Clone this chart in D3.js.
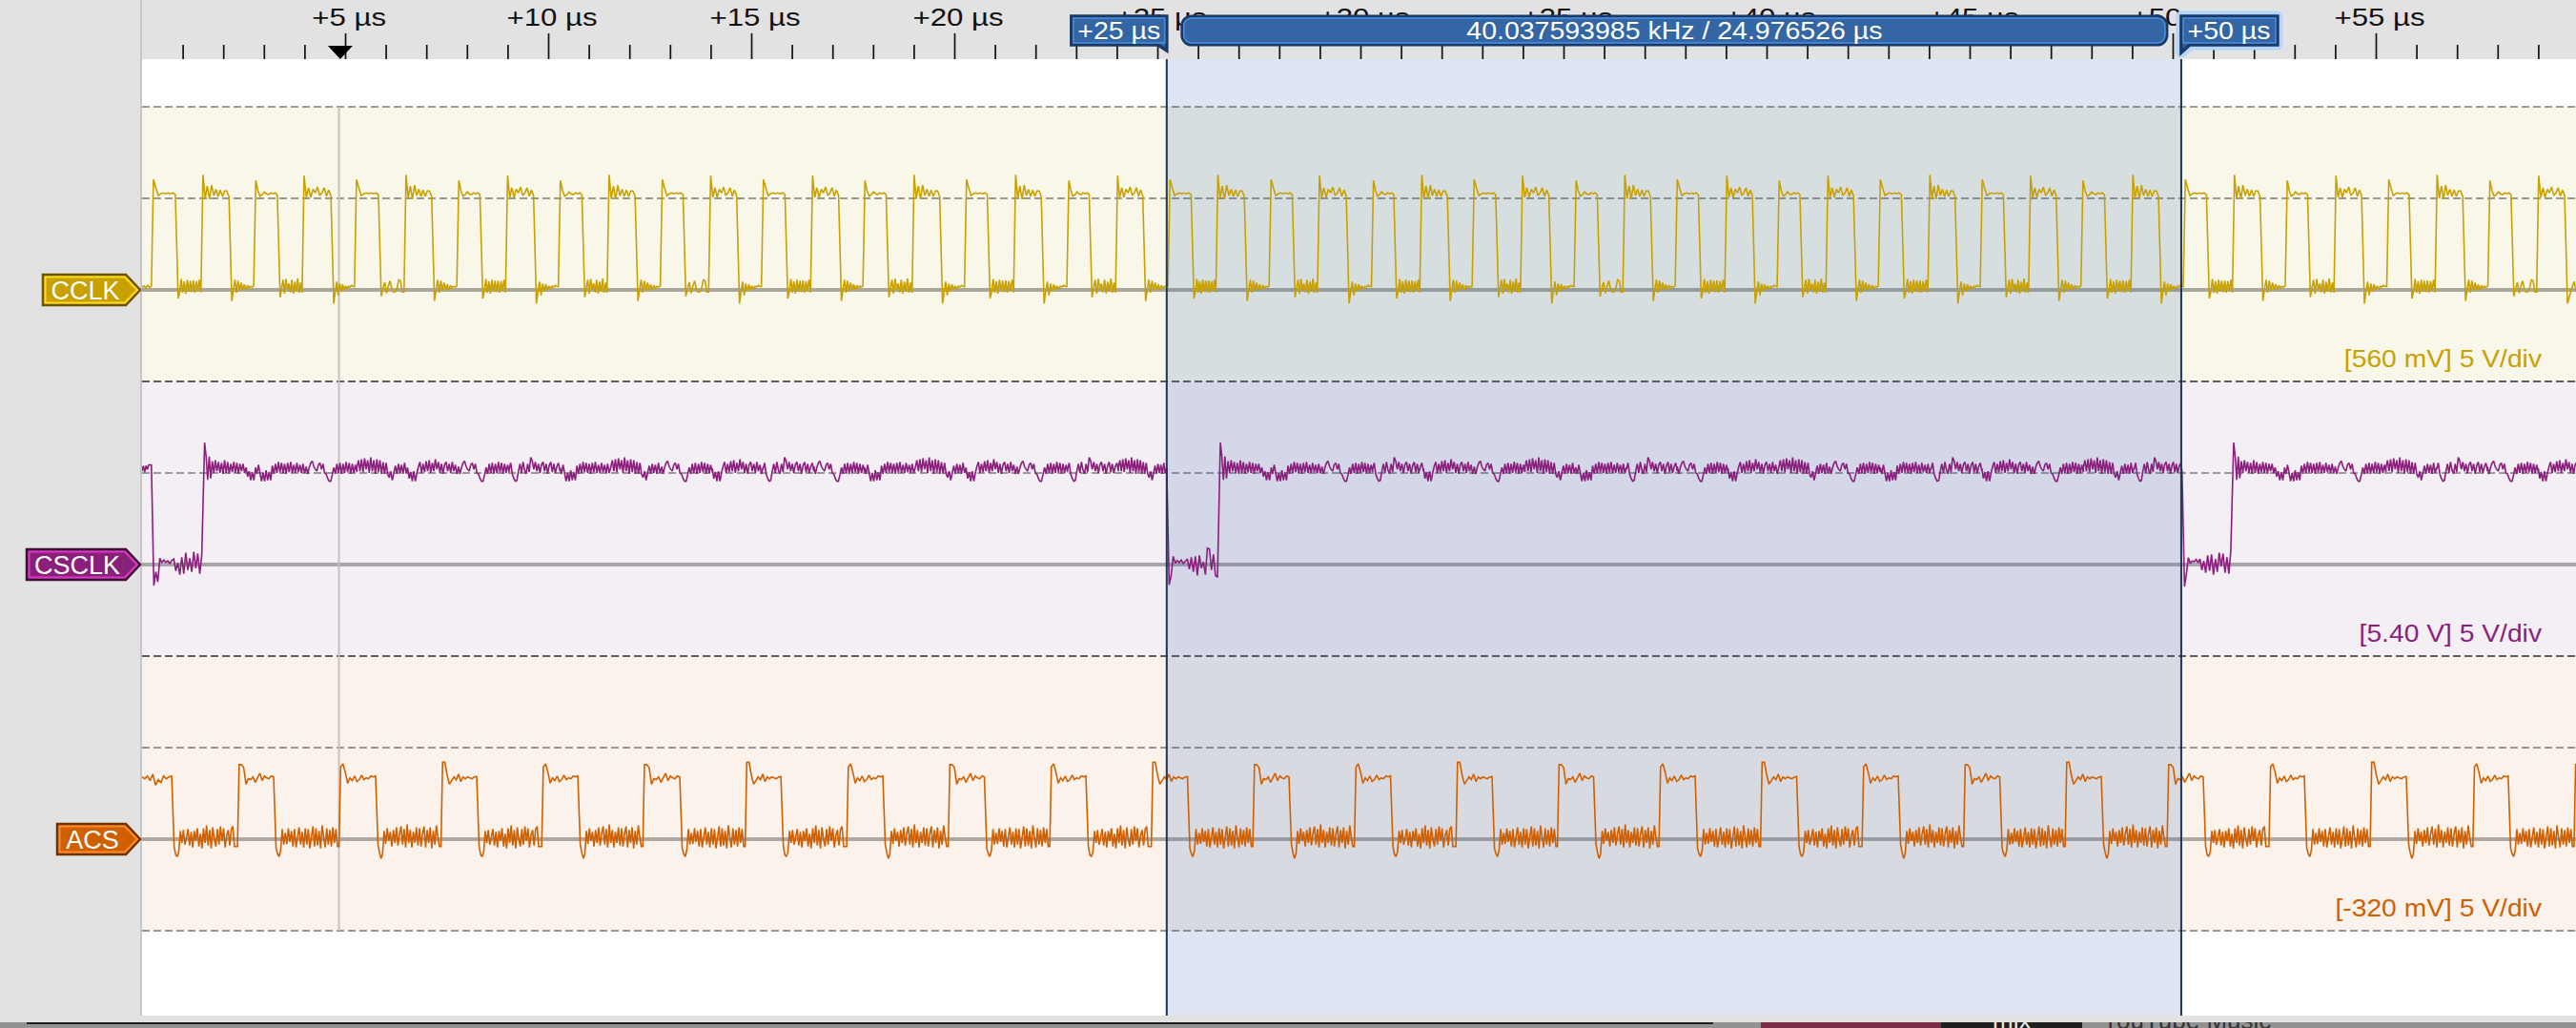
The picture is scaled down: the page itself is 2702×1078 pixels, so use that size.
<!DOCTYPE html>
<html>
<head>
<meta charset="utf-8">
<title>CCLK / CSCLK / ACS</title>
<script src="https://cdn.jsdelivr.net/npm/d3@7"></script>
<style>
  html, body { margin: 0; padding: 0; background: #e2e2e2; overflow: hidden; }
  svg { display: block; }
  text { font-family: "Liberation Sans", Arial, sans-serif; }
</style>
</head>
<body>
<svg id="chart" width="2702" height="1078"></svg>
<script>
// ------------------------------------------------------------
// data: edge times in us, levels in V
// a ripple shape is one hand-read stretch of trace, a pick list
// says which shape each stretch of the capture looks like
// ------------------------------------------------------------
const majorTicks = [5, 10, 15, 20, 25, 30, 35, 40, 45, 50, 55];
const minorTicks = [1, 2, 3, 4, 6, 7, 8, 9, 11, 12, 13, 14, 16, 17, 18, 19, 21, 22, 23, 24, 26, 27, 28, 29, 31, 32, 33, 34, 36, 37, 38, 39, 41, 42, 43, 44, 46, 47, 48, 49, 51, 52, 53, 54, 56, 57, 58, 59];

const cursorA = 25.23;
const cursorB = 50.21;
const triggerAt = 4.88;
const cursorLabelA = '+25 µs';
const cursorLabelB = '+50 µs';
const spanLabel = '40.037593985 kHz / 24.976526 µs';

// CCLK
const cclkRise = [0.23, 1.45, 2.75, 3.94, 5.23, 6.45, 7.75, 8.95, 10.25, 11.45, 12.76, 13.95, 15.25, 16.46, 17.75, 18.96, 20.25, 21.46, 22.77, 23.97, 25.26, 26.44, 27.75, 28.94, 30.27, 31.46, 32.75, 33.94, 35.26, 36.46, 37.75, 38.97, 40.26, 41.46, 42.75, 43.97, 45.26, 46.45, 47.74, 48.97, 50.26, 51.47, 52.77, 53.97, 55.27, 56.46, 57.76, 58.96];
const cclkFall = [0.82, 2.14, 3.33, 4.65, 5.82, 7.13, 8.32, 9.64, 10.83, 12.14, 13.32, 14.64, 15.83, 17.15, 18.32, 19.64, 20.81, 22.14, 23.32, 24.64, 25.83, 27.14, 28.32, 29.65, 30.82, 32.14, 33.33, 34.64, 35.83, 37.14, 38.32, 39.65, 40.82, 42.14, 43.32, 44.64, 45.83, 47.13, 48.32, 49.65, 50.83, 52.15, 53.32, 54.65, 55.82, 57.14, 58.33, 59.65];
const cclkLead = [0.12, 0.22, 0.1, 0.25, 0.14, 0.2];
const cclkHighShapes = [
  [6.03, 5.56, 5.15, 5.25, 5.3, 5.25, 5.3, 5.25, 5.3, 5.2],
  [5.98, 5.42, 5.12, 5.2, 5.35, 5.25, 5.2, 5.3, 5.25, 5.3, 5.2],
  [6.29, 4.99, 5.67, 4.95, 5.72, 5.15, 5.5, 5.1, 5.45, 5.1, 5.4, 5.4, 5.1],
  [6.24, 5.05, 5.58, 5.05, 5.5, 5.3, 5.62, 5.15, 5.3, 5.58, 5.12, 5.45, 5.15]
];
const cclkLowShapes = [
  [-0.47, -0.1, 0.6, -0.15, 0.47, -0.2, 0.55, -0.1, 0.5, -0.12, 0.52, -0.15, 0.47, -0.05, 0.55, -0.14],
  [-0.4, 0.1, 0.55, -0.2, 0.6, 0.0, 0.35, -0.14, 0.55, -0.2, 0.45, -0.1, 0.62, -0.15, 0.4, -0.15],
  [-0.6, 0.0, 0.56, -0.15, 0.5, -0.05, 0.4, 0.0, 0.3, 0.0, 0.25, 0.1, 0.2, 0.15, 0.22],
  [-0.75, -0.1, 0.45, -0.3, 0.35, -0.1, 0.3, 0.02, 0.22, 0.05, 0.2, 0.16, 0.25, 0.2, 0.18],
  [-0.35, 0.1, 0.42, -0.18, 0.2, 0.5, 0.05, -0.12, -0.1, 0.1, 0.55, 0.5, -0.12, -0.12]
];
const cclkHighPick = [0, 2, 1, 3, 0, 2, 1, 3, 1, 2, 0, 3, 0, 3, 1, 2, 0, 2, 1, 3, 0, 2, 0, 3, 1, 2, 0, 3, 1, 2, 0, 3, 1, 3, 0, 2, 0, 3, 1, 2, 0, 2, 1, 3, 0, 2, 1, 3];
const cclkLowPick = [0, 2, 1, 3, 4, 2, 0, 3, 1, 2, 4, 3, 0, 2, 1, 3, 0, 3, 1, 2, 0, 2, 1, 3, 0, 2, 1, 3, 4, 2, 0, 3, 1, 2, 0, 3, 1, 2, 0, 3, 0, 2, 1, 3, 0, 2, 4, 3];

// CSCLK
const csclkFall = [0.23, 25.23, 50.23];
const csclkRise = [1.47, 26.48, 51.43];
const csclkLead = [5.1, 5.4, 5.05, 5.4, 5.2, 5.44, 5.44, 5.44];
const csclkLowShapes = [
  [-1.15, -0.4, -0.95, 0.35, 0.1, 0.25, 0.12, 0.2, 0.06, 0.22, 0.3, -0.35, 0.1, -0.55, 0.4, -0.5, 0.65, -0.3, 0.35, -0.4, 0.7, -0.2, 0.6, -0.5, 0.5],
  [-1.1, -0.6, 0.45, 0.08, 0.22, 0.1, 0.25, 0.06, 0.18, 0.3, -0.25, 0.4, -0.4, 0.45, -0.6, 0.5, -0.2, 0.15, -0.55, 0.9, 0.85, -0.3, 0.55, -0.6, -0.7],
  [-1.2, -0.5, 0.38, 0.05, 0.2, 0.15, 0.28, 0.1, 0.3, -0.3, 0.2, -0.45, 0.5, -0.35, 0.55, -0.55, 0.3, -0.4, 0.65, -0.1, 0.6, -0.45, 0.4, -0.5, 0.75]
];
const csclkRiseShape = [6.66, 5.9, 4.63, 5.9, 4.7, 5.65, 5.0, 5.7, 5.1, 5.6, 5.0, 5.55, 4.95, 5.7, 5.0, 5.6, 4.95, 5.5, 5.05, 5.6, 5.0, 5.55, 4.95, 5.5, 5.1, 5.5, 5.0, 5.3, 4.8, 5.1, 4.6, 5.05, 4.6, 5.2];
const csclkBeatShapes = [
  [5.3, 4.95, 5.45, 5.0, 4.55, 5.0, 4.55, 5.15, 4.6, 5.05, 4.6, 5.4, 4.95, 5.5, 5.0, 5.6, 5.05, 5.55, 5.0, 5.5, 4.95, 5.55, 5.05, 5.6, 5.0, 5.45, 5.0, 5.55, 5.05, 5.45, 5.0, 5.5, 5.0, 5.3],
  [5.35, 4.95, 5.3, 5.55, 5.65, 5.35, 5.2, 5.1, 5.45, 5.55, 5.2, 5.5, 5.0, 4.95, 4.7, 4.55, 4.55, 4.9, 5.3, 4.95, 5.5, 5.0, 5.55, 4.95, 5.5, 5.0, 5.6, 5.05, 5.55, 4.95, 5.5, 5.0, 5.45, 5.05],
  [5.3, 5.7, 5.1, 5.75, 5.05, 5.8, 5.2, 5.7, 5.0, 5.85, 5.1, 5.7, 4.95, 5.75, 5.05, 5.7, 4.95, 5.6, 4.95, 5.55, 4.95, 4.75, 5.1, 4.6, 5.0, 5.4, 4.95, 5.5, 5.0, 5.45, 4.95, 5.55, 5.0, 5.3],
  [5.25, 4.7, 5.05, 4.55, 5.1, 4.55, 5.0, 5.35, 5.6, 5.0, 5.5, 5.05, 5.65, 5.1, 5.7, 5.0, 5.55, 5.1, 5.75, 5.2, 5.6, 5.0, 5.5, 4.95, 5.45, 5.6, 5.1, 5.5, 5.0, 5.6, 5.1, 5.45, 4.95, 5.3],
  [5.2, 5.55, 4.95, 4.7, 4.55, 4.6, 5.1, 5.5, 5.0, 5.6, 5.15, 4.95, 5.5, 5.05, 5.85, 5.65, 5.2, 5.6, 5.1, 5.5, 5.0, 5.45, 5.6, 5.1, 5.5, 4.95, 5.4, 5.6, 5.05, 5.5, 5.0, 5.35, 5.55, 5.1]
];
const csclkBeatPick = [
  [0, 1, 2, 3, 1, 4, 0, 2, 1, 3, 4, 1, 0, 2, 3, 1, 4, 2, 1],
  [0, 1, 4, 3, 1, 2, 0, 4, 1, 3, 2, 1, 0, 4, 3, 1, 2, 4, 1],
  [0, 1, 2, 4, 1, 3, 0, 2, 1]
];

// ACS
const acsFall = [0.73, 3.24, 5.75, 8.24, 10.73, 13.24, 15.73, 18.24, 20.74, 23.24, 25.74, 28.24, 30.74, 33.24, 35.74, 38.24, 40.74, 43.24, 45.74, 48.24, 50.75, 53.24, 55.75, 58.26];
const acsRise = [2.35, 4.85, 7.36, 9.84, 12.33, 14.85, 17.35, 19.85, 22.35, 24.85, 27.35, 29.85, 32.35, 34.85, 37.35, 39.85, 42.35, 44.85, 47.35, 49.86, 52.37, 54.86, 57.39, 59.88];
const acsLead = [3.4, 3.3, 3.45, 3.2, 3.55, 2.95, 3.25, 3.1, 3.45, 3.3, 3.4, 3.45];
const acsHighShapes = [
  [4.07, 4.07, 3.9, 3.0, 3.3, 3.25, 3.4, 3.1, 3.35, 3.6, 3.2, 3.45, 3.35, 3.3, 3.45, 3.4],
  [3.95, 4.12, 3.65, 3.05, 3.35, 3.2, 3.45, 3.15, 3.25, 3.5, 3.25, 3.35, 3.3, 3.45, 3.4, 3.45],
  [4.2, 4.2, 3.5, 3.0, 3.2, 3.4, 3.25, 3.55, 3.15, 3.4, 3.3, 3.4, 3.35, 3.3, 3.4, 3.42]
];
const acsLowShapes = [
  [-0.4, -0.85, -0.95, -0.7, 0.45, -0.2, 0.5, -0.3, 0.1, 0.55, -0.35, 0.4, -0.45, 0.45, -0.1, 0.6, -0.4, 0.3, -0.5, 0.6, -0.2, 0.75, -0.35, 0.5, -0.5, 0.65, 0.0, -0.4, 0.55, -0.3, 0.7, -0.1, 0.6, -0.45, 0.2, 0.5, -0.35, 0.55, 0.7, -0.4, -0.4, -0.4],
  [-0.5, -0.8, -0.95, -0.6, 0.55, -0.3, 0.35, -0.25, 0.6, -0.15, 0.45, -0.4, 0.55, -0.45, 0.1, 0.65, -0.3, 0.4, -0.45, 0.6, -0.3, 0.55, -0.5, 0.1, 0.7, -0.4, 0.6, -0.35, 0.45, -0.5, 0.75, 0.1, -0.45, 0.6, -0.3, 0.5, -0.4, 0.65, -0.2, 0.55, -0.4, -0.4],
  [-0.3, -0.75, -1.05, -0.8, 0.45, -0.25, 0.6, -0.1, 0.4, -0.4, 0.5, -0.2, 0.65, -0.35, 0.3, 0.7, -0.3, 0.55, -0.45, 0.8, -0.2, 0.5, -0.45, 0.4, -0.2, 0.65, -0.35, 0.6, -0.4, 0.3, 0.7, -0.45, 0.5, -0.2, 0.65, -0.5, 0.45, -0.3, 0.75, 0.1, -0.4, -0.4]
];
const acsHighPick = [0, 1, 2, 1, 0, 2, 1, 0, 1, 2, 0, 1, 2, 0, 1, 2, 1, 0, 2, 0, 1, 2, 1, 0];
const acsLowPick = [0, 1, 2, 0, 2, 1, 0, 2, 1, 0, 1, 2, 0, 1, 2, 1, 0, 2, 1, 2, 0, 1, 2, 1];

// ------------------------------------------------------------
// layout and styles
// ------------------------------------------------------------
const WIDTH = 2702;
const HEIGHT = 1078;
const PLOT_LEFT = 149;
const RULER_BOTTOM = 62;
const PLOT_BOTTOM = 1065;
const LABEL_STRETCH = 1.14;

const channels = [
  { name: 'CCLK', note: '[560 mV] 5 V/div', top: 112, color: '#c8a000', bg: '#f9f7ea', zero: '#aaa89c', boxLeft: 45, boxFill: '#c8a000', boxInner: '#fdd824', boxOuter: '#6b5500' },
  { name: 'CSCLK', note: '[5.40 V] 5 V/div', top: 400, color: '#8a1f7c', bg: '#f4eef5', zero: '#aba5ac', boxLeft: 28, boxFill: '#8a1f7c', boxInner: '#d83bc2', boxOuter: '#3d0d36' },
  { name: 'ACS', note: '[-320 mV] 5 V/div', top: 688, color: '#d05f00', bg: '#fbf2ec', zero: '#aea8a3', boxLeft: 60, boxFill: '#cf5f00', boxInner: '#ff8a2a', boxOuter: '#6f3300' }
];
const ZONE = 288;  // three divisions

const x = d3.scaleLinear().domain([0, 60]).range([PLOT_LEFT, PLOT_LEFT + 60 * 42.6]);
const svg = d3.select('#chart');

// stretch one hand-read shape between two times
function place(shape, t0, t1) {
  const s = d3.scaleLinear().domain([0, shape.length - 1]).range([t0, t1]);
  return shape.map((v, i) => [s(i), v]);
}

function buildCclk() {
  let pts = place(cclkLead, 0, cclkRise[0]);
  cclkRise.forEach((r, i) => {
    pts = pts.concat(place(cclkHighShapes[cclkHighPick[i]], r + 0.05, cclkFall[i]));
    const next = i + 1 < cclkRise.length ? cclkRise[i + 1] : 60.85;
    pts = pts.concat(place(cclkLowShapes[cclkLowPick[i]], cclkFall[i] + 0.07, next));
  });
  return pts;
}

function buildCsclk() {
  let pts = place(csclkLead, 0, csclkFall[0]);
  csclkFall.forEach((f, i) => {
    pts = pts.concat(place(csclkLowShapes[i], f + 0.06, csclkRise[i]));
    const start = csclkRise[i] + 0.07;
    pts = pts.concat(place(csclkRiseShape, start, start + 1.25));
    csclkBeatPick[i].forEach((p, k) => {
      const b = start + 1.25 * (k + 1);
      const end = i + 1 < csclkFall.length ? Math.min(b + 1.25, csclkFall[i + 1]) : b + 1.25;
      if (b < end) pts = pts.concat(place(csclkBeatShapes[p], b, end));
    });
  });
  return pts;
}

function buildAcs() {
  let pts = place(acsLead, 0, acsFall[0]);
  acsFall.forEach((f, i) => {
    pts = pts.concat(place(acsLowShapes[acsLowPick[i]], f + 0.06, acsRise[i]));
    const next = i + 1 < acsFall.length ? acsFall[i + 1] : 60.7;
    pts = pts.concat(place(acsHighShapes[acsHighPick[i]], acsRise[i] + 0.04, next));
  });
  return pts;
}

const traces = [buildCclk(), buildCsclk(), buildAcs()];

// ------------------------------------------------------------
// window strip behind the app at the very bottom
// ------------------------------------------------------------
const strip = svg.append('g');
strip.append('rect').attr('x', 0).attr('y', 1072).attr('width', WIDTH).attr('height', 6).attr('fill', '#929292');
strip.append('rect').attr('x', 28).attr('y', 1072).attr('width', 1769).attr('height', 2).attr('fill', '#1d2020');
strip.append('rect').attr('x', 1847).attr('y', 1072).attr('width', 189).attr('height', 6).attr('fill', '#7c2a48');
strip.append('rect').attr('x', 2036).attr('y', 1072).attr('width', 148).attr('height', 6).attr('fill', '#1f1f1f');
strip.append('text').attr('x', 2090).attr('y', 1079).attr('font-size', 26).attr('fill', '#e8e8e8').text('mix');
strip.append('text').attr('x', 2205).attr('y', 1079).attr('font-size', 26).attr('fill', '#333').text('YouTube Music');
svg.append('rect').attr('x', 0).attr('y', 0).attr('width', WIDTH).attr('height', 1072).attr('fill', '#e2e2e2');

// ------------------------------------------------------------
// plot area
// ------------------------------------------------------------
svg.append('rect').attr('x', PLOT_LEFT).attr('y', RULER_BOTTOM)
  .attr('width', WIDTH - PLOT_LEFT).attr('height', PLOT_BOTTOM - RULER_BOTTOM).attr('fill', '#fff');
svg.append('line').attr('x1', 148).attr('x2', 148).attr('y1', 0).attr('y2', PLOT_BOTTOM)
  .attr('stroke', '#bdbdbd').attr('stroke-width', 1.5);

svg.selectAll('.zone').data(channels).enter().append('rect')
  .attr('class', 'zone')
  .attr('x', PLOT_LEFT).attr('y', d => d.top)
  .attr('width', WIDTH - PLOT_LEFT).attr('height', ZONE)
  .attr('fill', d => d.bg);

// grid
function dashed(y, stroke) {
  svg.append('line').attr('x1', PLOT_LEFT).attr('x2', WIDTH).attr('y1', y).attr('y2', y)
    .attr('stroke', stroke).attr('stroke-width', 2).attr('stroke-dasharray', '8 4');
}
dashed(112, '#9d9b92');
dashed(208, '#9a988f');
dashed(400, '#5f5a62');
dashed(496, '#9a95a0');
dashed(688, '#5f5a5c');
dashed(784, '#9b9590');
dashed(976, '#9b9590');

channels.forEach(c => {
  svg.append('line').attr('x1', PLOT_LEFT).attr('x2', WIDTH)
    .attr('y1', c.top + 192).attr('y2', c.top + 192)
    .attr('stroke', c.zero).attr('stroke-width', 4);
});

// measured span
svg.append('rect').attr('x', x(cursorA)).attr('y', RULER_BOTTOM)
  .attr('width', x(cursorB) - x(cursorA)).attr('height', PLOT_BOTTOM - RULER_BOTTOM)
  .attr('fill', 'rgb(50,100,170)').attr('fill-opacity', 0.17);

// trigger cursor
svg.append('line').attr('x1', 355.5).attr('x2', 355.5).attr('y1', 112).attr('y2', 976)
  .attr('stroke', '#c2c2c2').attr('stroke-width', 2);

// traces
svg.append('clipPath').attr('id', 'plot-clip').append('rect')
  .attr('x', PLOT_LEFT).attr('y', RULER_BOTTOM)
  .attr('width', WIDTH - PLOT_LEFT).attr('height', PLOT_BOTTOM - RULER_BOTTOM);

channels.forEach((c, i) => {
  const zeroY = c.top + 192;
  const y = d3.scaleLinear().domain([0, 5]).range([zeroY, zeroY - 96]);
  const line = d3.line().x(d => x(d[0])).y(d => y(d[1]));
  svg.append('path')
    .attr('clip-path', 'url(#plot-clip)')
    .attr('d', line(traces[i]))
    .attr('fill', 'none')
    .attr('stroke', c.color)
    .attr('stroke-width', 1.6)
    .attr('stroke-linejoin', 'miter')
    .attr('stroke-miterlimit', 2);
  svg.append('text')
    .attr('transform', `translate(2666,${c.top + 273}) scale(1.13,1)`)
    .attr('text-anchor', 'end').attr('font-size', 25)
    .attr('fill', c.color).text(c.note);
});

[cursorA, cursorB].forEach(t => {
  svg.append('line').attr('x1', x(t)).attr('x2', x(t)).attr('y1', RULER_BOTTOM).attr('y2', PLOT_BOTTOM)
    .attr('stroke', '#1d3557').attr('stroke-width', 2);
});

// ------------------------------------------------------------
// ruler
// ------------------------------------------------------------
const rulerMinor = svg.append('g').attr('transform', `translate(0,${RULER_BOTTOM})`)
  .call(d3.axisTop(x).tickValues(minorTicks).tickSize(15).tickFormat(''));
const rulerMajor = svg.append('g').attr('transform', `translate(0,${RULER_BOTTOM})`)
  .call(d3.axisTop(x).tickValues(majorTicks).tickSize(27).tickPadding(8).tickFormat(d => `+${d} µs`));
[rulerMinor, rulerMajor].forEach(g => {
  g.select('.domain').remove();
  g.selectAll('line').attr('stroke', '#111').attr('stroke-width', 1.7);
});
rulerMajor.selectAll('text')
  .attr('font-size', 26).attr('fill', '#111').attr('font-family', null)
  .attr('y', -35)
  .attr('x', 3)
  .attr('transform', 'scale(1.2,1)');

svg.append('path')
  .attr('d', `M${x(triggerAt) - 13},48 h26 l-13,14 z`)
  .attr('fill', '#000');

// ------------------------------------------------------------
// cursor flags
// ------------------------------------------------------------
const FLAG_FILL = '#3465a4';
const FLAG_INNER = '#4a90e2';
const FLAG_OUTER = '#1b3a66';

function strokedFlag(d, glow) {
  if (glow) {
    svg.append('path').attr('d', d).attr('fill', 'none')
      .attr('stroke', '#b5d5fb').attr('stroke-width', 11).attr('stroke-linejoin', 'round');
  }
  svg.append('path').attr('d', d).attr('fill', FLAG_FILL)
    .attr('stroke', FLAG_OUTER).attr('stroke-width', 3.5).attr('stroke-linejoin', 'miter');
}
function flagText(label, cx) {
  svg.append('text')
    .attr('transform', `translate(${cx},41) scale(${LABEL_STRETCH},1)`)
    .attr('text-anchor', 'middle').attr('font-size', 25).attr('fill', '#fff').text(label);
}

const xa = x(cursorA);
const xb = x(cursorB);

strokedFlag(`M${xa - 100},17 H${xa} V53 L${xa - 9},47 H${xa - 100} Z`);
svg.append('rect').attr('x', xa - 98).attr('y', 19).attr('width', 96).attr('height', 26)
  .attr('fill', 'none').attr('stroke', FLAG_INNER).attr('stroke-width', 1.5);
flagText(cursorLabelA, xa - 50);

svg.append('rect').attr('x', xa + 16).attr('y', 17)
  .attr('width', xb - xa - 31).attr('height', 30).attr('rx', 10)
  .attr('fill', FLAG_FILL).attr('stroke', FLAG_OUTER).attr('stroke-width', 3);
svg.append('rect').attr('x', xa + 18).attr('y', 19)
  .attr('width', xb - xa - 35).attr('height', 26).attr('rx', 8)
  .attr('fill', 'none').attr('stroke', FLAG_INNER).attr('stroke-width', 1.5);
flagText(spanLabel, (xa + 16 + xb - 15) / 2);

strokedFlag(`M${xb},17 H${xb + 101} V47 H${xb + 9} L${xb},55 Z`, true);
svg.append('rect').attr('x', xb + 2).attr('y', 19).attr('width', 97).attr('height', 26)
  .attr('fill', 'none').attr('stroke', FLAG_INNER).attr('stroke-width', 1.5);
flagText(cursorLabelB, xb + 50);

// ------------------------------------------------------------
// channel tags
// ------------------------------------------------------------
channels.forEach(c => {
  const midY = c.top + 192;
  const tag = (l, t, r, tip) =>
    `M${l},${midY - t} H${r} L${tip},${midY} L${r},${midY + t} H${l} Z`;
  svg.append('path').attr('d', tag(c.boxLeft, 16, 132, 147))
    .attr('fill', c.boxFill).attr('stroke', c.boxOuter).attr('stroke-width', 2.5);
  svg.append('path').attr('d', tag(c.boxLeft + 2.5, 13.5, 131, 144))
    .attr('fill', 'none').attr('stroke', c.boxInner).attr('stroke-width', 2);
  svg.append('text')
    .attr('transform', `translate(${(c.boxLeft + 134) / 2},${midY + 10})`)
    .attr('text-anchor', 'middle').attr('font-size', 27).attr('fill', '#fff').text(c.name);
});
</script>
</body>
</html>
